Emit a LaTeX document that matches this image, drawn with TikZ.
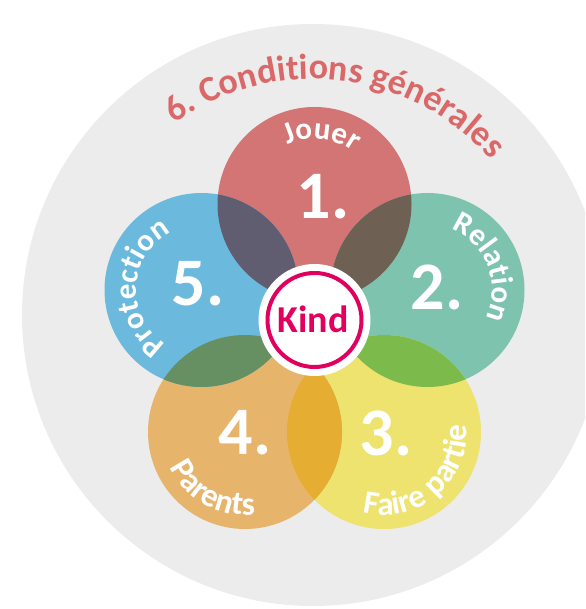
\documentclass[tikz,border=0pt]{standalone}
\usepackage{fontspec}
\setmainfont{Carlito}
\newfontfamily\lblfont[LetterSpace=5]{Carlito}
\newfontfamily\ttlfont{Carlito}
\usetikzlibrary{decorations.text}
\definecolor{bgc}{HTML}{ECECEC}
\definecolor{ccA}{HTML}{D47575}
\definecolor{ccB}{HTML}{7DC3AE}
\definecolor{ccC}{HTML}{EDE36E}
\definecolor{ccD}{HTML}{E7B46B}
\definecolor{ccE}{HTML}{6BBADE}
\definecolor{oAB}{HTML}{6E6053}
\definecolor{oBC}{HTML}{7CBA4C}
\definecolor{oCD}{HTML}{E5AE32}
\definecolor{oDE}{HTML}{668F62}
\definecolor{oEA}{HTML}{605D70}
\definecolor{ttlc}{HTML}{DA6868}
\definecolor{kindc}{HTML}{E2005E}
\tikzset{
  numtxt/.style={text=white, inner sep=0pt, font=\bfseries\fontsize{68}{68}\selectfont},
  toplbl/.style={decorate, decoration={text along path, text align=center,
     text={|\lblfont\bfseries\fontsize{31}{33}\selectfont\color{white}|#1}}},
  botlbl/.style={decorate, decoration={text along path, text align=center,
     text={|\lblfont\bfseries\fontsize{33}{35}\selectfont\color{white}|#1}}},
}
\begin{document}
\begin{tikzpicture}[x=1pt,y=1pt]
\useasboundingbox (0,0) rectangle (585,609);
\clip (0,0) rectangle (585,609);
\coordinate (g) at (313,294);
\fill[bgc] (g) circle (291);
\coordinate (c1) at (314.5,405);
\coordinate (c2) at (427.5,319);
\coordinate (c3) at (384,177);
\coordinate (c4) at (245,177);
\coordinate (c5) at (201.5,319);
\fill[ccA] (c1) circle (97);
\fill[ccB] (c2) circle (97);
\fill[ccC] (c3) circle (97);
\fill[ccD] (c4) circle (97);
\fill[ccE] (c5) circle (97);
\begin{scope}\clip (c1) circle (97); \fill[oAB] (c2) circle (97);\end{scope}
\begin{scope}\clip (c2) circle (97); \fill[oBC] (c3) circle (97);\end{scope}
\begin{scope}\clip (c3) circle (97); \fill[oCD] (c4) circle (97);\end{scope}
\begin{scope}\clip (c4) circle (97); \fill[oDE] (c5) circle (97);\end{scope}
\begin{scope}\clip (c5) circle (97); \fill[oEA] (c1) circle (97);\end{scope}
% numbers
\node[numtxt] (n1) at (323,412) {1.};
\node[numtxt] (n2) at (437,322) {2.};
\node[numtxt] (n3) at (386,176) {3.};
\node[numtxt] (n4) at (245,176) {4.};
\node[numtxt] (n5) at (198,325) {5.};
% curved labels
\path[toplbl={Jouer}] (c1) ++(174:65) arc[start angle=174, end angle=-6, radius=65];
\path[toplbl={Relation}] (c2) ++(111.6:65) arc[start angle=111.6, end angle=-68.4, radius=65];
\path[toplbl={Protection}] (c5) ++(267.5:65) arc[start angle=267.5, end angle=87.5, radius=65];
\path[botlbl={Parents}] (c4) ++(151:83) arc[start angle=151, end angle=331, radius=83];
\path[botlbl={Faire partie}] (c3) ++(220:83) arc[start angle=220, end angle=400, radius=83];
% title
\path[decorate, decoration={text along path, text align=center,
  text={|\ttlfont\bfseries\fontsize{36}{38}\selectfont\color{ttlc}|6. Conditions générales}}]
  (g) ++(173.5:236) arc[start angle=173.5, end angle=-6.5, radius=236];
% centre
\node[circle, fill=white, minimum size=112pt, inner sep=0pt] (kbg) at (314.5,289) {};
\draw[kindc, line width=4pt] (kbg.center) circle (47);
\node[text=kindc, inner sep=0pt, font=\bfseries\fontsize{38}{38}\selectfont] (kind) at (313,290) {Kind};
\end{tikzpicture}
\end{document}
